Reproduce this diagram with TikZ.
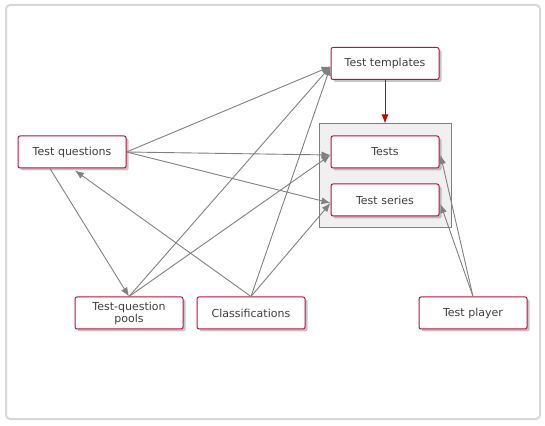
\documentclass[tikz,border=0pt]{standalone}
\usepackage{fontspec}
\setmainfont{DejaVu Sans}
\usetikzlibrary{shapes,arrows.meta,fit,backgrounds,shadows}
\definecolor{boxred}{RGB}{190,15,60}
\definecolor{textgray}{RGB}{64,64,64}
\definecolor{linegray}{RGB}{128,128,128}
\definecolor{groupfill}{RGB}{240,240,240}
\definecolor{framegray}{RGB}{216,216,216}
\definecolor{arrowred}{RGB}{200,0,0}

\begin{document}
\begin{tikzpicture}[x=1pt, y=1pt, node distance=48pt, >={Latex[length=9pt,width=7pt]}]
			\tikzset{
				block/.style={rectangle, rounded corners=2pt, minimum width=108pt, minimum height=32pt, text width=100pt, align=center, draw=boxred, line width=1pt, fill=white, text=textgray, font=\fontsize{11}{12}\selectfont, drop shadow={shadow xshift=2.5pt, shadow yshift=-2.5pt, fill=black!45, opacity=0.5}},
				group/.style={rectangle, draw=linegray, fill=groupfill, line width=1pt, inner sep=11.5pt},
				frame/.style={draw=framegray, line width=2pt, rounded corners=4pt},
				arrow/.style={->, draw=linegray, line width=0.9pt},
				redarrow/.style={->, draw=arrowred, line width=1pt},
			}
			\useasboundingbox (0,0) rectangle (545,425);
			\draw[frame] (6,6) rectangle (540,420);
			\node[block] (questions) at (72,273) {Test questions};
			\node[block, right of=questions, xshift=265pt] (tests) {Tests};
			\node[block, below of=tests] (series) {Test series};
			\node[block, above of=tests, yshift=40.5pt] (templates) {Test templates};
			\node[block, below of=questions, yshift=-113pt, xshift=57pt] (pools) {Test-question\\pools};
			\node[block, right of=pools, xshift=74pt] (classifications) {Classifications};
			\node[block, right of=classifications, xshift=174pt] (player) {Test player};
			\begin{scope}[on background layer]
				\node[group, fit=(tests)(series)] (testgroup) {};
			\end{scope}
			%arrow ends
			\coordinate (templatesin) at ([yshift=-3pt]templates.west);
			\coordinate (testsin) at ([yshift=-3pt]tests.west);
			\coordinate (seriesin) at ([yshift=-3pt]series.west);
			%draw arrows
			\draw[arrow] (questions.east) -- (templatesin);
			\draw[arrow] (questions.east) -- (testsin);
			\draw[arrow] (questions.east) -- (seriesin);
			\draw[arrow] ([xshift=-22pt]questions.south) -- (pools.north);
			\draw[arrow] (classifications.north) -- ([xshift=3pt,yshift=-2pt]questions.south);
			\draw[arrow] (pools.north) -- (templatesin);
			\draw[arrow] (pools.north) -- (testsin);
			\draw[arrow] (classifications.north) -- (templatesin);
			\draw[arrow] (classifications.north) -- (seriesin);
			\draw[arrow] (player.north) -- ([xshift=1pt,yshift=-3pt]tests.east);
			\draw[arrow] (player.north) -- ([xshift=1pt,yshift=-4pt]series.east);
			\draw[redarrow] (templates.south) -- (testgroup.north);
		\end{tikzpicture}
\end{document}
